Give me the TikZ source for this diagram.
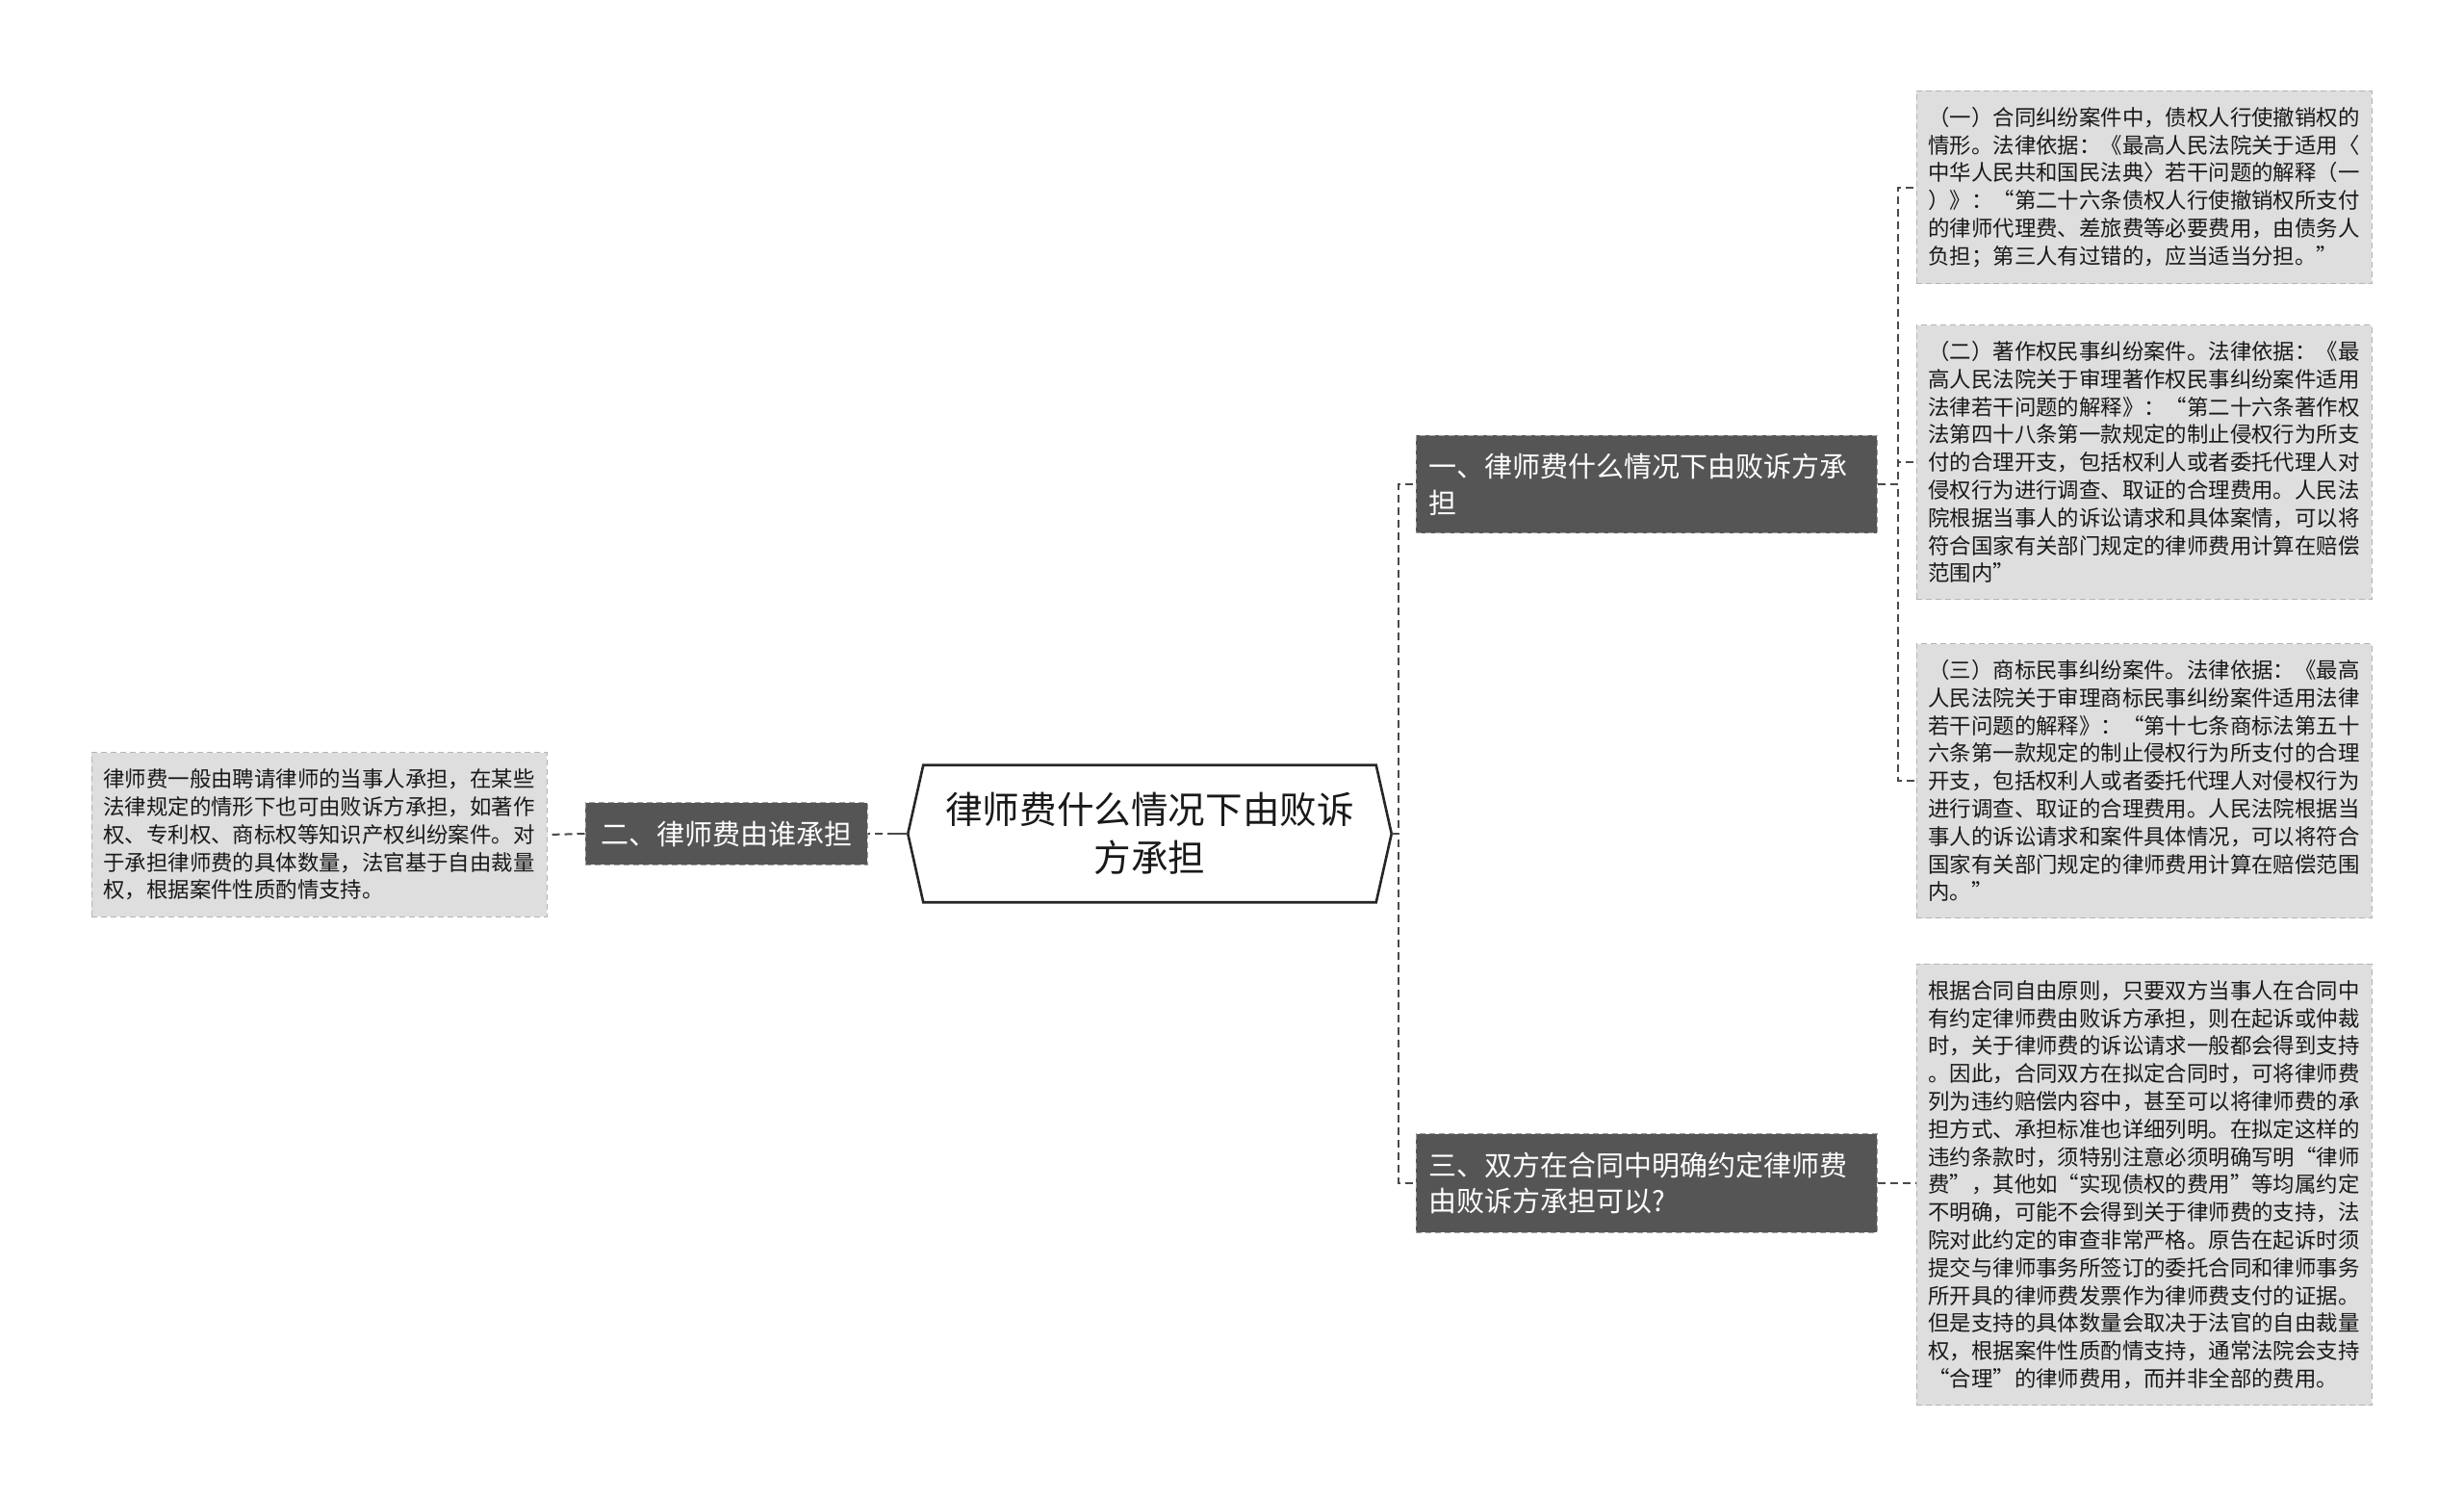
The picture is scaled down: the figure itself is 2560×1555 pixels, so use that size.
\documentclass[tikz,border=0pt]{standalone}
\usepackage{fontspec}
\setmainfont{Noto Sans CJK SC}
\usetikzlibrary{calc}

\definecolor{branchgray}{HTML}{555555}
\definecolor{leafgray}{HTML}{DEDEDE}
\definecolor{leafline}{HTML}{B4B4B4}
\definecolor{linkgray}{HTML}{4A4A4A}

\tikzset{every picture/.style={line width=0.75pt}}
\tikzset{
  rootbox/.style={minimum width=234.5pt, minimum height=70.5pt, inner sep=0pt, align=center, text=black!90, font=\fontsize{19.3pt}{25.3pt}\selectfont},
  branchbox/.style={fill=branchgray, draw=white!62!black, line width=0.5pt, dash pattern=on 3pt off 2pt, text=white, align=left, inner xsep=6.5pt, inner ysep=9.4pt, font=\fontsize{14.5pt}{18.8pt}\selectfont},
  leafbox/.style={fill=leafgray, draw=leafline, line width=0.5pt, dash pattern=on 3pt off 2pt, text=black!90, align=left, inner xsep=6.25pt, inner ysep=8.4pt, font=\fontsize{11.2pt}{14.4pt}\selectfont},
  link/.style={draw=linkgray, line width=1pt, dash pattern=on 4pt off 2.5pt},
  rootlink/.style={draw=linkgray, line width=1.4pt},
}

\begin{document}
\begin{tikzpicture}[x=0.5pt,y=0.5pt,yscale=-1,xscale=1]
    \useasboundingbox (0,0) rectangle (2560,1555);

    %Root
    \node[rootbox] (root) at (1194.5,866) {律师费什么情况下由败诉\\方承担};
    \draw[draw=black!85, line width=1.3pt] (root.north west) -- (root.north east) -- ([xshift=8pt]root.east) -- (root.south east) -- (root.south west) -- ([xshift=-8pt]root.west) -- cycle;
    \coordinate (rtR) at ([xshift=8pt]root.east);
    \coordinate (rtL) at ([xshift=-8pt]root.west);

    %Branches
    \node[branchbox, text width=226.5pt] (b1) at (1710.5,503) {一、律师费什么情况下由败诉方承\\担};
    \node[branchbox, inner xsep=8pt] (b2) at (754.5,866) {二、律师费由谁承担};
    \node[branchbox, text width=226.5pt] (b3) at (1710.5,1229) {三、双方在合同中明确约定律师费\\由败诉方承担可以?};

    %Leaves
    \node[leafbox] (l0) at (331.5,867) {律师费一般由聘请律师的当事人承担，在某些\\法律规定的情形下也可由败诉方承担，如著作\\权、专利权、商标权等知识产权纠纷案件。对\\于承担律师费的具体数量，法官基于自由裁量\\权，根据案件性质酌情支持。};
    \node[leafbox] (l1) at (2227.5,194.5) {（一）合同纠纷案件中，债权人行使撤销权的\\情形。法律依据：《最高人民法院关于适用〈\\中华人民共和国民法典〉若干问题的解释（一\\）》：“第二十六条债权人行使撤销权所支付\\的律师代理费、差旅费等必要费用，由债务人\\负担；第三人有过错的，应当适当分担。”};
    \node[leafbox] (l2) at (2227.5,480) {（二）著作权民事纠纷案件。法律依据：《最\\高人民法院关于审理著作权民事纠纷案件适用\\法律若干问题的解释》：“第二十六条著作权\\法第四十八条第一款规定的制止侵权行为所支\\付的合理开支，包括权利人或者委托代理人对\\侵权行为进行调查、取证的合理费用。人民法\\院根据当事人的诉讼请求和具体案情，可以将\\符合国家有关部门规定的律师费用计算在赔偿\\范围内”};
    \node[leafbox] (l3) at (2227.5,811) {（三）商标民事纠纷案件。法律依据：《最高\\人民法院关于审理商标民事纠纷案件适用法律\\若干问题的解释》：“第十七条商标法第五十\\六条第一款规定的制止侵权行为所支付的合理\\开支，包括权利人或者委托代理人对侵权行为\\进行调查、取证的合理费用。人民法院根据当\\事人的诉讼请求和案件具体情况，可以将符合\\国家有关部门规定的律师费用计算在赔偿范围\\内。”};
    \node[leafbox] (l4) at (2227.5,1230.5) {根据合同自由原则，只要双方当事人在合同中\\有约定律师费由败诉方承担，则在起诉或仲裁\\时，关于律师费的诉讼请求一般都会得到支持\\。因此，合同双方在拟定合同时，可将律师费\\列为违约赔偿内容中，甚至可以将律师费的承\\担方式、承担标准也详细列明。在拟定这样的\\违约条款时，须特别注意必须明确写明“律师\\费”，其他如“实现债权的费用”等均属约定\\不明确，可能不会得到关于律师费的支持，法\\院对此约定的审查非常严格。原告在起诉时须\\提交与律师事务所签订的委托合同和律师事务\\所开具的律师费发票作为律师费支付的证据。\\但是支持的具体数量会取决于法官的自由裁量\\权，根据案件性质酌情支持，通常法院会支持\\“合理”的律师费用，而并非全部的费用。};

    %Links
    \draw[link] (rtR) -- ++(7,0) |- (b1.west);
    \draw[link] (rtR) -- ++(7,0) |- (b3.west);
    \draw[rootlink] (rtR) -- ++(8,0);
    \draw[link] (rtL) -- (b2.east);
    \draw[rootlink] (rtL) -- ++(-16,0);
    \draw[link] (b2.west) -- (l0.east);
    \draw[link] (b1.east) -- ++(21,0) |- (l1.west);
    \draw[link] (b1.east) -- ++(21,0) |- (l2.west);
    \draw[link] (b1.east) -- ++(21,0) |- (l3.west);
    \draw[link] (b3.east) -- (b3.east -| l4.west);

\end{tikzpicture}
\end{document}
